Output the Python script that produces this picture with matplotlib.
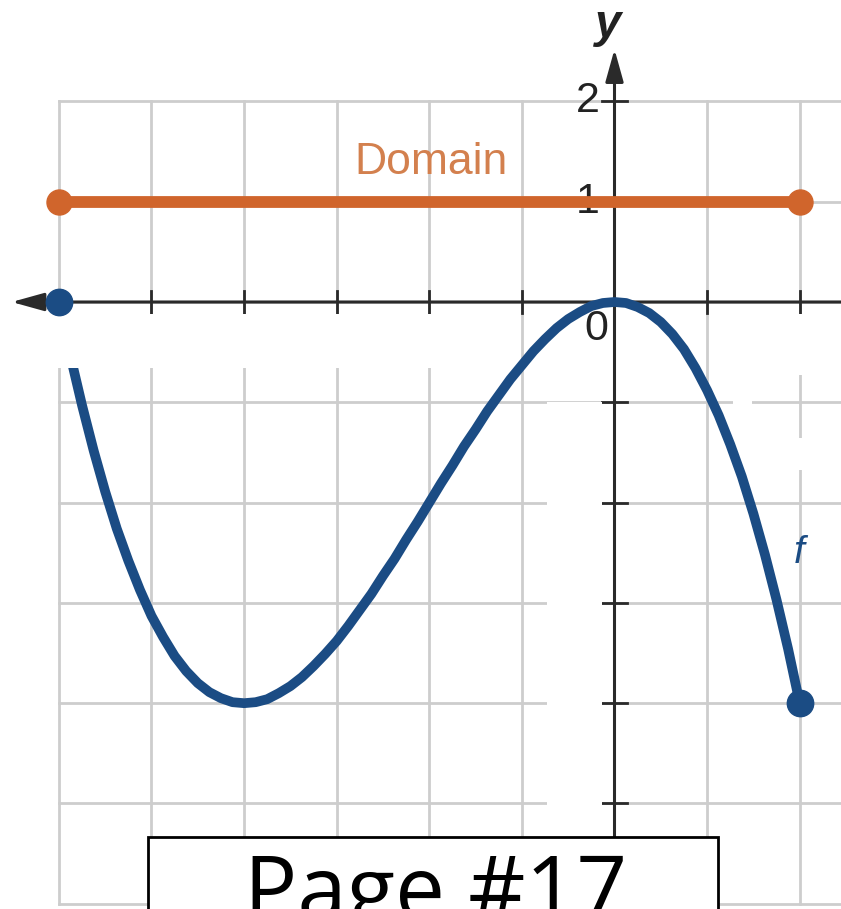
import matplotlib
matplotlib.use('Agg')
import matplotlib.pyplot as plt
from matplotlib.patches import Rectangle

# Значения функции f (шаг 0.125)
x_vals = [-6.0, -5.875, -5.75, -5.625, -5.5, -5.375, -5.25, -5.125,
          -5.0, -4.875, -4.75, -4.625, -4.5, -4.375, -4.25, -4.125,
          -4.0, -3.875, -3.75, -3.625, -3.5, -3.375, -3.25, -3.125,
          -3.0, -2.875, -2.75, -2.625, -2.5, -2.375, -2.25, -2.125,
          -2.0, -1.875, -1.75, -1.625, -1.5, -1.375, -1.25, -1.125,
          -1.0, -0.875, -0.75, -0.625, -0.5, -0.375, -0.25, -0.125,
          0.0, 0.125, 0.25, 0.375, 0.5, 0.625, 0.75, 0.875,
          1.0, 1.125, 1.25, 1.375, 1.5, 1.625, 1.75, 1.875, 2.0]
f_vals = [0.0, -0.54, -1.03, -1.48, -1.89, -2.26, -2.58, -2.87,
          -3.13, -3.34, -3.53, -3.68, -3.80, -3.89, -3.95, -3.99,
          -4.0, -3.99, -3.96, -3.90, -3.83, -3.74, -3.63, -3.51,
          -3.38, -3.23, -3.07, -2.91, -2.73, -2.56, -2.37, -2.19,
          -2.0, -1.81, -1.63, -1.44, -1.27, -1.09, -0.93, -0.77,
          -0.63, -0.49, -0.37, -0.26, -0.17, -0.10, -0.04, -0.01,
          0.0, -0.01, -0.05, -0.11, -0.20, -0.32, -0.47, -0.66,
          -0.88, -1.13, -1.42, -1.74, -2.11, -2.52, -2.97, -3.46, -4.0]

# Область определения: отрезок [-6, 2], рисуется на уровне y = 1
domain_x = [-6, 2]
domain_y = [1, 1]

grid_x = [-6, -5, -4, -3, -2, -1, 0, 1, 2]
grid_y = [-6, -5, -4, -3, -2, -1, 0, 1, 2]
tick_labels = {2: '2', 1: '1'}

blue = '#1b4c84'
orange = '#d0652c'
axis_col = '#2a2a2a'
grid_col = '#cdcdcd'

fig = plt.figure(figsize=(8.41, 9.09), dpi=100)
ax = fig.add_axes([0, 0, 1, 1])
ax.set_xlim(-6.636, 2.446)
ax.set_ylim(-6.052, 3.011)
ax.axis('off')

# Сетка
for gx in grid_x:
    ax.plot([gx, gx], [grid_y[0], grid_y[-1]], color=grid_col, lw=2, zorder=1)
for gy in grid_y:
    ax.plot([grid_x[0], 2.446], [gy, gy], color=grid_col, lw=2, zorder=1)

# Стертые подписи делений (белые заплатки)
for x0, y0, w, h in [(-6.7, -0.66, 5.57, 0.54),
                     (-0.73, -6.2, 0.6, 5.2),
                     (1.57, -0.73, 0.9, 0.61),
                     (1.28, -1.09, 0.2, 0.15),
                     (1.9, -1.68, 0.2, 0.32)]:
    ax.add_patch(Rectangle((x0, y0), w, h, facecolor='white', edgecolor='none', zorder=5))

# Оси со стрелками
arrow = dict(arrowstyle='-|>,head_length=0.9,head_width=0.25',
             mutation_scale=22, color=axis_col, lw=2.2, shrinkA=0, shrinkB=0)
ax.annotate('', xy=(-6.51, 0), xytext=(2.446, 0), arrowprops=arrow, zorder=3)
ax.annotate('', xy=(0, 2.52), xytext=(0, -6.052), arrowprops=arrow, zorder=3)

# Деления на осях
for gx in grid_x:
    if gx not in (0, -6):
        ax.plot([gx, gx], [-0.11, 0.11], color=axis_col, lw=2, zorder=3)
for gy in grid_y:
    if gy != 0:
        ax.plot([-0.13, 0.13], [gy, gy], color=axis_col, lw=2, zorder=3)

sans = ['Liberation Sans', 'DejaVu Sans']
for val, txt in tick_labels.items():
    ax.text(-0.29, val, txt, ha='center', va='center', fontsize=31,
            family=sans, color='#222222', zorder=2)
ax.text(-0.2, -0.27, '0', ha='center', va='center', fontsize=31,
        family=sans, color='#222222', zorder=6)
ax.text(-0.07, 2.76, 'y', ha='center', va='center', fontsize=34, fontstyle='italic',
        fontweight='bold', family=sans, color='#222222')

# Отрезок области определения
ax.plot(domain_x, domain_y, color=orange, lw=8.5, solid_capstyle='butt', zorder=4)
ax.plot(domain_x, domain_y, 'o', color=orange, ms=18, zorder=4)
ax.text(-1.98, 1.39, 'Domain', ha='center', va='center', fontsize=32,
        family=sans, color='#d3804e', zorder=4)

# График функции f
ax.plot(x_vals, f_vals, color=blue, lw=7, solid_capstyle='round',
        solid_joinstyle='round', zorder=4)
ax.plot([x_vals[0], x_vals[-1]], [f_vals[0], f_vals[-1]], 'o', color=blue, ms=19, zorder=6)
ax.text(1.99, -2.5, 'f', ha='center', va='center', fontsize=28, fontstyle='italic',
        family=sans, color=blue, zorder=4)

# Рамка с номером страницы
ax.add_patch(Rectangle((-5.04, -6.3), 6.16, 0.97, facecolor='white', edgecolor='black',
                       lw=2, zorder=10, clip_on=False))
ax.text(-1.93, -6.16, 'Page #17', ha='center', va='baseline', fontsize=64,
        family=['Open Sans', 'DejaVu Sans'], color='black', zorder=11)

fig.savefig('out.png', dpi=100)
